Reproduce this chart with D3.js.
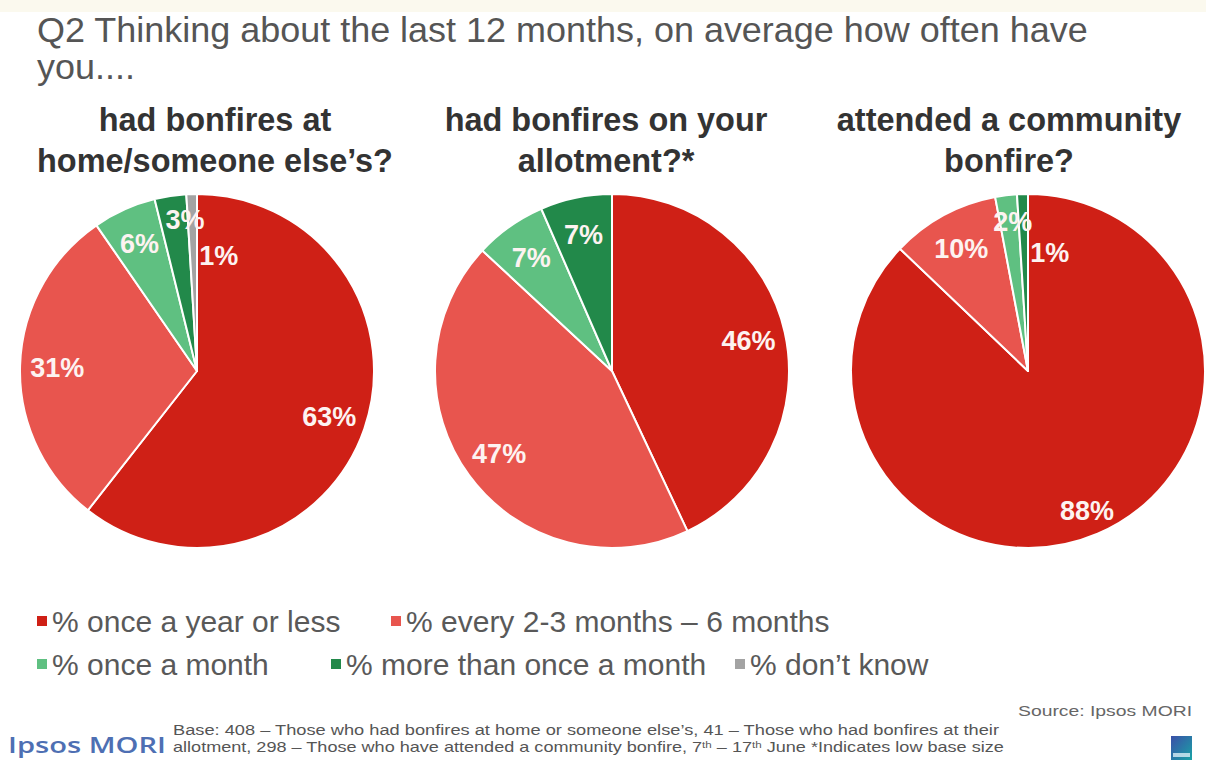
<!DOCTYPE html>
<html>
<head>
<meta charset="utf-8">
<script src="https://cdn.jsdelivr.net/npm/d3@7/dist/d3.min.js"></script>
<style>
  html, body { margin: 0; padding: 0; background: #ffffff; }
  svg { display: block; }
</style>
</head>
<body>
<svg id="chart" width="1206" height="769"></svg>
<script>
// Answer categories (legend order = slice order)
const categories = [
  "% once a year or less",
  "% every 2-3 months \u2013 6 months",
  "% once a month",
  "% more than once a month",
  "% don\u2019t know"
];

// Sub-questions, one per pie (two lines each)
const questions = [
  ["had bonfires at", "home/someone else\u2019s?"],
  ["had bonfires on your", "allotment?*"],
  ["attended a community", "bonfire?"]
];

// Percentages per pie, in category order
const homeValues      = [63, 31, 6, 3, 1];
const allotmentValues = [46, 47, 7, 7, 0];
const communityValues = [88, 10, 2, 1, 0];

const titleLines = [
  "Q2 Thinking about the last 12 months, on average how often have",
  "you...."
];

const sourceText = "Source: Ipsos MORI";
const footnoteLines = [
  "Base: 408 \u2013 Those who had bonfires at home or someone else\u2019s, 41 \u2013 Those who had bonfires at their",
  ["allotment, 298 \u2013 Those who have attended a community bonfire, 7", "th", " \u2013 17", "th", " June *Indicates low base size"]
];

// ---- styling / layout ----
const palette = ["#cf2016", "#e8554e", "#5fc081", "#22894a", "#a3a3a3"];
const FONT = "'Liberation Sans', Arial, sans-serif";
const svg = d3.select("#chart");

const color = d3.scaleOrdinal().domain(categories).range(palette);

// faint band along the top edge
svg.append("rect").attr("x", 0).attr("y", 0).attr("width", 1206).attr("height", 12)
  .attr("fill", "#fbf9ee");

// scale a text element's font size so it spans the given width
function fitWidth(sel, target) {
  const fs = parseFloat(sel.attr("font-size"));
  const w = sel.node().getComputedTextLength();
  const size = fs * target / w;
  sel.attr("font-size", size);
  return size;
}

// ---- title ----
const t1 = svg.append("text").attr("x", 37).attr("y", 42)
  .attr("font-family", FONT).attr("font-size", 32).attr("fill", "#555555")
  .text(titleLines[0]);
const titleSize = fitWidth(t1, 1051);
svg.append("text").attr("x", 37).attr("y", 79)
  .attr("font-family", FONT).attr("font-size", titleSize).attr("fill", "#555555")
  .text(titleLines[1]);

// ---- pies ----
const pieData = [homeValues, allotmentValues, communityValues];
const centersX = [197, 612, 1028];
const centerY = 371;
const radius = 177;
const subCenters = [215, 606, 1009];

// hand nudges for labels on very thin slices
const labelNudge = {
  "0-3": [9, -13],
  "0-4": [26, 24],
  "2-0": [4, 11],
  "2-2": [2, -11],
  "2-3": [26, 21]
};

const pie = d3.pie().sort(null).value(d => d.value);
const arc = d3.arc().innerRadius(0).outerRadius(radius);
const labelArc = d3.arc().innerRadius(radius * 0.79).outerRadius(radius * 0.79);

// sub-question headings: size set from the widest line
const probe = svg.append("text").attr("font-family", FONT).attr("font-weight", "bold")
  .attr("font-size", 30).text(questions[0][1]);
const subSize = fitWidth(probe, 356);
probe.remove();

pieData.forEach((vals, p) => {
  const rows = vals.map((v, i) => ({ category: categories[i], value: v }));
  const g = svg.append("g").attr("transform", `translate(${centersX[p]},${centerY})`);
  const arcs = pie(rows);

  g.selectAll("path").data(arcs.filter(a => a.data.value > 0)).join("path")
    .attr("d", arc)
    .attr("fill", d => color(d.data.category))
    .attr("stroke", "#ffffff")
    .attr("stroke-width", 2)
    .attr("stroke-linejoin", "round");

  g.selectAll("text").data(arcs.filter(a => a.data.value > 0)).join("text")
    .attr("transform", d => {
      const c = labelArc.centroid(d);
      const n = labelNudge[`${p}-${d.index}`] || [0, 0];
      return `translate(${c[0] + n[0]},${c[1] + n[1]})`;
    })
    .attr("text-anchor", "middle")
    .attr("dy", "0.36em")
    .attr("font-family", FONT)
    .attr("font-weight", "bold")
    .attr("font-size", 27)
    .attr("fill", "#fdf3f1")
    .text(d => d.data.value + "%");

  questions[p].forEach((line, li) => {
    svg.append("text")
      .attr("x", subCenters[p]).attr("y", 131 + li * 41)
      .attr("text-anchor", "middle")
      .attr("font-family", FONT).attr("font-weight", "bold")
      .attr("font-size", subSize).attr("fill", "#333333")
      .text(line);
  });
});

// ---- legend ----
// two rows; swatch x positions per row
const legendRows = [[0, 1], [2, 3, 4]];
const legendY = [622, 665];
const legendSwatchX = [[37, 391], [37, 331, 735]];
const legendSize = 30;

legendRows.forEach((row, r) => {
  row.forEach((ci, k) => {
    const g = svg.append("g")
      .attr("transform", `translate(${legendSwatchX[r][k]},${legendY[r]})`);
    g.append("rect").attr("x", 0).attr("y", -6).attr("width", 10).attr("height", 10)
      .attr("fill", color(categories[ci]));
    g.append("text")
      .attr("x", 15)
      .attr("dy", "0.34em")
      .attr("font-family", FONT).attr("font-size", legendSize).attr("fill", "#595959")
      .text(categories[ci]);
  });
});

// ---- footer ----
svg.append("text").attr("x", 1192).attr("y", 716).attr("text-anchor", "end")
  .attr("font-family", FONT).attr("font-size", 15).attr("fill", "#666666")
  .attr("textLength", 174).attr("lengthAdjust", "spacingAndGlyphs")
  .text(sourceText);

svg.append("text").attr("x", 8).attr("y", 753)
  .attr("font-family", "'Open Sans', sans-serif").attr("font-weight", 600)
  .attr("font-size", 21).attr("fill", "#4e6fb3")
  .attr("textLength", 158).attr("lengthAdjust", "spacingAndGlyphs")
  .text("Ipsos MORI");

svg.append("text").attr("x", 173).attr("y", 735)
  .attr("font-family", FONT).attr("font-size", 14).attr("fill", "#555555")
  .attr("textLength", 826).attr("lengthAdjust", "spacingAndGlyphs")
  .text(footnoteLines[0]);

const fn2 = svg.append("text").attr("x", 173).attr("y", 752)
  .attr("font-family", FONT).attr("font-size", 14).attr("fill", "#555555");
footnoteLines[1].forEach(part => {
  const sup = part === "th";
  fn2.append("tspan")
    .attr("font-size", sup ? 9 : 14)
    .attr("baseline-shift", sup ? "super" : null)
    .text(part);
});
// compress the second line to its column width
{
  const w = fn2.node().getComputedTextLength();
  fn2.attr("transform", `translate(173,0) scale(${832 / w},1) translate(-173,0)`);
}

// small corner badge
const grad = svg.append("defs").append("linearGradient").attr("id", "badge")
  .attr("x1", "0").attr("y1", "0").attr("x2", "1").attr("y2", "1");
grad.append("stop").attr("offset", "0").attr("stop-color", "#3b4fa8");
grad.append("stop").attr("offset", "1").attr("stop-color", "#19a3a6");
svg.append("rect").attr("x", 1171).attr("y", 736).attr("width", 21).attr("height", 24)
  .attr("fill", "url(#badge)");
svg.append("rect").attr("x", 1173).attr("y", 753).attr("width", 17).attr("height", 4)
  .attr("fill", "#d8eef6").attr("opacity", 0.8);
</script>
</body>
</html>
